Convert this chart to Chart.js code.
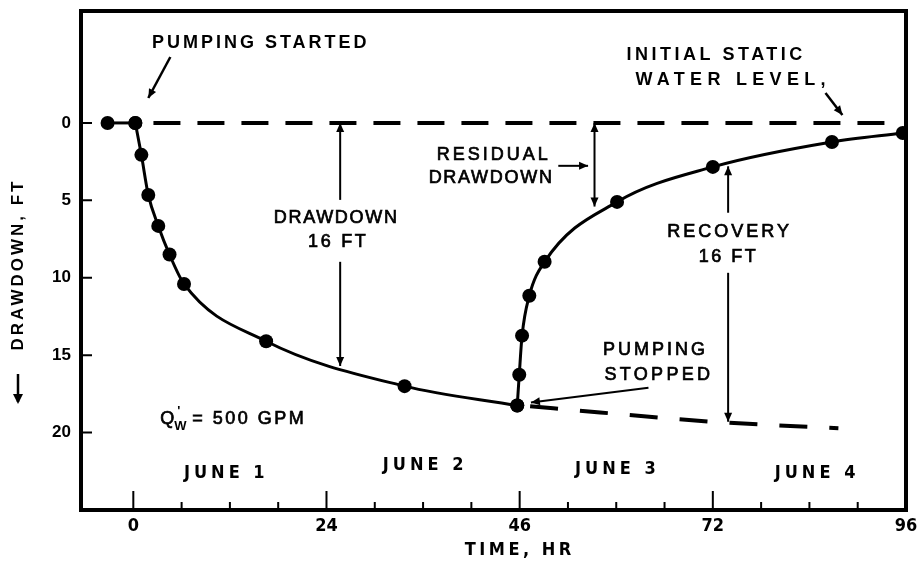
<!DOCTYPE html>
<html>
<head>
<meta charset="utf-8">
<script src="https://cdn.jsdelivr.net/npm/chart.js@4/dist/chart.umd.min.js"></script>
<style>
  html, body { margin: 0; padding: 0; background: #fff; }
  canvas { display: block; }
</style>
</head>
<body>
<canvas id="c" width="920" height="561"></canvas>
<script>
// Time axis (hours since pumping started)
const xTickValues = [0, 24, 48, 72, 96];
const xTickLabels = ['0', '24', '46', '72', '96'];
const xMinorTicks = [6, 12, 18, 30, 36, 42, 54, 60, 66, 78, 84, 90];
// Drawdown axis (ft)
const yTickValues = [0, 5, 10, 15, 20];
const dayLabels = ['JUNE 1', 'JUNE 2', 'JUNE 3', 'JUNE 4'];

// Water level before the pump was switched on
const prePumpHours = [-3.2, 0.25];
const prePumpFeet = [0, 0];
// Drawdown while pumping
const drawdownHours = [0.25, 1.0, 1.86, 3.1, 4.5, 6.3, 16.5, 33.7, 47.7];
const drawdownFeet = [0, 2.06, 4.65, 6.65, 8.5, 10.4, 14.1, 17.0, 18.25];
// Recovery after pumping stopped
const recoveryHours = [47.7, 47.95, 48.3, 49.2, 51.1, 60.1, 72.0, 86.8, 95.6];
const recoveryFeet = [18.25, 16.26, 13.74, 11.16, 8.97, 5.1, 2.84, 1.23, 0.65];
// Drawdown extended as if pumping had continued
const projectedHours = [49.3, 58, 72, 87.6];
const projectedFeet = [18.3, 18.7, 19.3, 19.72];
// Initial static water level
const staticHours = [2.5, 95];
const staticFeet = [0, 0];

const pts = (xs, ys) => xs.map((x, i) => ({ x, y: ys[i] }));

const SANS = '"Liberation Sans", Arial, sans-serif';
const NARROW = '"Liberation Sans Narrow", "DejaVu Sans Condensed", sans-serif';

// Callout texts, placed in data units; 'heavy' thickens the regular face slightly
const notes = [
  { text: 'PUMPING STARTED', x: 15.65, y: -5.16, font: 'bold 18px ' + SANS, ls: 3 },
  { text: 'INITIAL STATIC', x: 72.2, y: -4.39, font: 'bold 18px ' + SANS, ls: 3.5 },
  { text: 'WATER LEVEL,', x: 74.2, y: -2.77, font: 'bold 18px ' + SANS, ls: 5.3 },
  { text: 'DRAWDOWN', x: 25.1, y: 6.13, font: '18px ' + SANS, ls: 1.7, heavy: true },
  { text: '16 FT', x: 25.3, y: 7.68, font: '18px ' + SANS, ls: 2.7, heavy: true },
  { text: 'RESIDUAL', x: 44.6, y: 2.06, font: '18px ' + SANS, ls: 3, heavy: true },
  { text: 'DRAWDOWN', x: 44.35, y: 3.55, font: '18px ' + SANS, ls: 1.7, heavy: true },
  { text: 'RECOVERY', x: 73.9, y: 7.03, font: '18px ' + SANS, ls: 3, heavy: true },
  { text: '16 FT', x: 73.8, y: 8.65, font: '18px ' + SANS, ls: 2.5, heavy: true },
  { text: 'PUMPING', x: 64.7, y: 14.65, font: '18px ' + SANS, ls: 3, heavy: true },
  { text: 'STOPPED', x: 65.1, y: 16.26, font: '18px ' + SANS, ls: 3.3, heavy: true }
];
const dayPos = [[11.3, 22.6], [36.0, 22.1], [59.9, 22.4], [84.7, 22.6]];

// Leader arrows: from -> to, head(s) at 'to' (and at 'from' when both)
const arrows = [
  { from: [4.6, -4.26], to: [1.86, -1.61], w: 2.5 },
  { from: [86.0, -1.94], to: [88.1, -0.52], w: 2.5 },
  { from: [25.7, 4.97], to: [25.7, 0], w: 2 },
  { from: [25.7, 8.97], to: [25.7, 15.7], w: 2 },
  { from: [52.8, 2.77], to: [56.5, 2.77], w: 2 },
  { from: [57.3, 0], to: [57.3, 5.4], w: 2, both: true },
  { from: [73.9, 5.8], to: [73.9, 2.8], w: 2 },
  { from: [73.9, 9.68], to: [73.9, 19.3], w: 2 },
  { from: [64.0, 17.1], to: [49.4, 18.05], w: 2 }
];

function arrowHead(ctx, x1, y1, x2, y2, len, half) {
  const a = Math.atan2(y2 - y1, x2 - x1);
  ctx.beginPath();
  ctx.moveTo(x2, y2);
  ctx.lineTo(x2 - len * Math.cos(a) + half * Math.sin(a), y2 - len * Math.sin(a) - half * Math.cos(a));
  ctx.lineTo(x2 - len * Math.cos(a) - half * Math.sin(a), y2 - len * Math.sin(a) + half * Math.cos(a));
  ctx.closePath();
  ctx.fill();
}

function spacedText(ctx, text, x, y, font, ls, heavy) {
  ctx.font = font;
  ctx.letterSpacing = ls + 'px';
  ctx.textAlign = 'center';
  ctx.textBaseline = 'middle';
  ctx.fillText(text, x + ls / 2, y);
  if (heavy) {
    ctx.lineWidth = 0.7;
    ctx.strokeText(text, x + ls / 2, y);
  }
  ctx.letterSpacing = '0px';
}

const decorations = {
  id: 'decorations',
  afterDraw(chart) {
    const { ctx, chartArea: a, scales: { x: sx, y: sy } } = chart;
    const X = v => sx.getPixelForValue(v);
    const Y = v => sy.getPixelForValue(v);
    ctx.save();
    ctx.fillStyle = '#000';
    ctx.strokeStyle = '#000';

    // plot frame
    ctx.lineWidth = 4;
    ctx.strokeRect(a.left, a.top, a.right - a.left, a.bottom - a.top);

    // inward tick marks
    ctx.lineWidth = 2;
    ctx.beginPath();
    xTickValues.slice(0, -1).forEach(v => { ctx.moveTo(X(v), a.bottom); ctx.lineTo(X(v), a.bottom - 19); });
    xMinorTicks.forEach(v => { ctx.moveTo(X(v), a.bottom); ctx.lineTo(X(v), a.bottom - 8); });
    yTickValues.forEach(v => { ctx.moveTo(a.left, Y(v)); ctx.lineTo(a.left + 11, Y(v)); });
    ctx.stroke();

    // callouts
    notes.forEach(n => spacedText(ctx, n.text, X(n.x), Y(n.y), n.font, n.ls, n.heavy));
    dayLabels.forEach((t, i) => spacedText(ctx, t, X(dayPos[i][0]), Y(dayPos[i][1]), 'bold 18px ' + NARROW, 4));

    // discharge rate label  Q'w = 500 GPM
    const qx = X(3.35), qy = Y(19.1);
    ctx.textAlign = 'left';
    ctx.textBaseline = 'middle';
    ctx.lineWidth = 0.7;
    ctx.font = '18px ' + SANS;
    ctx.fillText('Q', qx, qy);
    ctx.strokeText('Q', qx, qy);
    ctx.font = 'bold 13px ' + SANS;
    ctx.fillText("'", qx + 17, qy - 7);
    ctx.fillText('W', qx + 14, qy + 8);
    ctx.font = '18px ' + SANS;
    ctx.letterSpacing = '2.5px';
    ctx.fillText('= 500 GPM', qx + 32, qy);
    ctx.strokeText('= 500 GPM', qx + 32, qy);
    ctx.letterSpacing = '0px';

    // arrows
    arrows.forEach(ar => {
      const x1 = X(ar.from[0]), y1 = Y(ar.from[1]), x2 = X(ar.to[0]), y2 = Y(ar.to[1]);
      ctx.lineWidth = ar.w;
      ctx.beginPath();
      ctx.moveTo(x1, y1);
      ctx.lineTo(x2, y2);
      ctx.stroke();
      arrowHead(ctx, x1, y1, x2, y2, 9, 4);
      if (ar.both) arrowHead(ctx, x2, y2, x1, y1, 9, 4);
    });

    // axis titles
    spacedText(ctx, 'TIME, HR', 518, 550, 'bold 18px ' + NARROW, 3.5);
    ctx.save();
    ctx.translate(18, 266);
    ctx.rotate(-Math.PI / 2);
    spacedText(ctx, 'DRAWDOWN, FT', 0, 0, 'bold 17px ' + SANS, 3);
    ctx.restore();
    ctx.lineWidth = 2.5;
    ctx.beginPath();
    ctx.moveTo(18, 374);
    ctx.lineTo(18, 402);
    ctx.stroke();
    arrowHead(ctx, 18, 374, 18, 404, 10, 5);

    ctx.restore();
  }
};

const dot = { pointRadius: 7, pointHoverRadius: 7, pointBackgroundColor: '#000', pointBorderWidth: 0 };

new Chart(document.getElementById('c'), {
  type: 'line',
  data: {
    datasets: [
      { data: pts(staticHours, staticFeet), borderColor: '#000', borderWidth: 4, borderDash: [27, 17], pointRadius: 0 },
      { data: pts(projectedHours, projectedFeet), borderColor: '#000', borderWidth: 4, borderDash: [28, 22], pointRadius: 0, cubicInterpolationMode: 'monotone' },
      { data: pts(prePumpHours, prePumpFeet), borderColor: '#000', borderWidth: 3, ...dot },
      { data: pts(drawdownHours, drawdownFeet), borderColor: '#000', borderWidth: 3, cubicInterpolationMode: 'monotone', ...dot },
      { data: pts(recoveryHours, recoveryFeet), borderColor: '#000', borderWidth: 3, cubicInterpolationMode: 'monotone', ...dot }
    ]
  },
  options: {
    responsive: false,
    animation: false,
    devicePixelRatio: 1,
    layout: { padding: { top: 11, right: 14, left: 0, bottom: 0 } },
    plugins: { legend: { display: false }, tooltip: { enabled: false } },
    scales: {
      x: {
        type: 'linear', min: -6.5, max: 96,
        grid: { display: false, drawTicks: false },
        border: { display: false },
        afterBuildTicks: s => { s.ticks = xTickValues.map(v => ({ value: v })); },
        afterFit: s => { s.height = 51; s.paddingLeft = 0; s.paddingRight = 0; },
        ticks: {
          autoSkip: false, maxRotation: 0, padding: 6, color: '#000',
          font: { family: NARROW, size: 18, weight: 'bold' },
          callback: (v, i) => xTickLabels[i]
        }
      },
      y: {
        type: 'linear', reverse: true, min: -7.23, max: 25,
        grid: { display: false, drawTicks: false },
        border: { display: false },
        afterBuildTicks: s => { s.ticks = yTickValues.map(v => ({ value: v })); },
        afterFit: s => { s.width = 81; s.paddingTop = 0; s.paddingBottom = 0; },
        ticks: {
          padding: 10, color: '#000',
          font: { family: SANS, size: 17, weight: 'bold' },
          callback: v => String(v)
        }
      }
    }
  },
  plugins: [decorations]
});
</script>
</body>
</html>
